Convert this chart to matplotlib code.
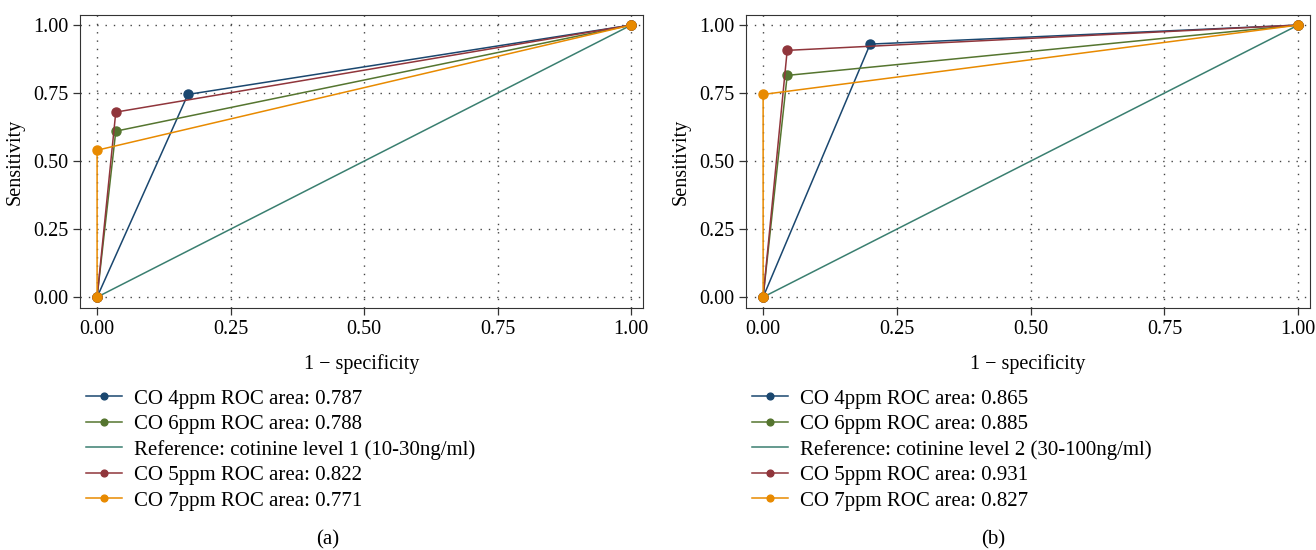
import matplotlib.pyplot as plt

plt.rcParams['font.family'] = ['Liberation Serif', 'DejaVu Serif']

# panel (a): cotinine level 1
fpr_a = {
    "CO 4ppm ROC area: 0.787": [0, 0.17, 1],
    "CO 6ppm ROC area: 0.788": [0, 0.035, 1],
    "Reference: cotinine level 1 (10-30ng/ml)": [0, 1],
    "CO 5ppm ROC area: 0.822": [0, 0.035, 1],
    "CO 7ppm ROC area: 0.771": [0, 0.0, 1],
}
tpr_a = {
    "CO 4ppm ROC area: 0.787": [0, 0.745, 1],
    "CO 6ppm ROC area: 0.788": [0, 0.61, 1],
    "Reference: cotinine level 1 (10-30ng/ml)": [0, 1],
    "CO 5ppm ROC area: 0.822": [0, 0.68, 1],
    "CO 7ppm ROC area: 0.771": [0, 0.54, 1],
}

# panel (b): cotinine level 2
fpr_b = {
    "CO 4ppm ROC area: 0.865": [0, 0.2, 1],
    "CO 6ppm ROC area: 0.885": [0, 0.045, 1],
    "Reference: cotinine level 2 (30-100ng/ml)": [0, 1],
    "CO 5ppm ROC area: 0.931": [0, 0.045, 1],
    "CO 7ppm ROC area: 0.827": [0, 0.0, 1],
}
tpr_b = {
    "CO 4ppm ROC area: 0.865": [0, 0.93, 1],
    "CO 6ppm ROC area: 0.885": [0, 0.815, 1],
    "Reference: cotinine level 2 (30-100ng/ml)": [0, 1],
    "CO 5ppm ROC area: 0.931": [0, 0.907, 1],
    "CO 7ppm ROC area: 0.827": [0, 0.745, 1],
}

colors = ['#1a476f', '#55752f', '#3a7f70', '#90353b', '#e88a00']
ticks = [0, 0.25, 0.5, 0.75, 1]
ticklabels = ['0.00', '0.25', '0.50', '0.75', '1.00']

fig = plt.figure(figsize=(13.16, 5.5), dpi=100)


def draw(ax, fpr, tpr, leg_x, cap_x, cap):
    for i, name in enumerate(fpr):
        ref = name.startswith('Reference')
        ax.plot(fpr[name], tpr[name], color=colors[i], lw=1.1,
                marker=None if ref else 'o', markersize=6.5, label=name,
                zorder=3 + (0 if ref else i))
    ax.set_xlim(-0.032, 1.022)
    ax.set_ylim(-0.04, 1.037)
    ax.set_xticks(ticks)
    ax.set_xticklabels(ticklabels)
    ax.set_yticks(ticks)
    ax.set_yticklabels(ticklabels)
    ax.tick_params(labelsize=14.5, length=5, width=0.9, color='#333333')
    ax.grid(True, color='#444444', linestyle=(0, (1, 5)), lw=1)
    for s in ax.spines.values():
        s.set_color('#333333')
    ax.set_xlabel('1 \u2212 specificity', fontsize=14.5, labelpad=11)
    ax.set_ylabel('Sensitivity', fontsize=14.5, labelpad=6)
    h, l = ax.get_legend_handles_labels()
    fig.legend(h, l, loc='upper left', bbox_to_anchor=(leg_x, 1 - 389 / 550),
               frameon=False, fontsize=15, handlelength=1.73,
               handletextpad=0.58, labelspacing=0.28, markerscale=0.75,
               borderaxespad=0, borderpad=0)
    fig.text(cap_x, 1 - 540 / 550, cap, fontsize=15, ha='center', va='center')


ax1 = fig.add_axes([80 / 1316, 1 - 308 / 550, 563 / 1316, 293 / 550])
draw(ax1, fpr_a, tpr_a, 86 / 1316, 328 / 1316, '(a)')
ax2 = fig.add_axes([746 / 1316, 1 - 308 / 550, 564 / 1316, 293 / 550])
draw(ax2, fpr_b, tpr_b, 752 / 1316, 993 / 1316, '(b)')

fig.savefig('out.png', dpi=100)
